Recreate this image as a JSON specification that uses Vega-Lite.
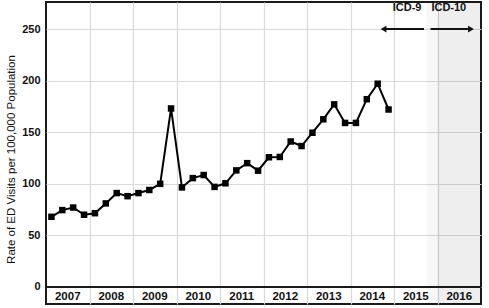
{
  "$schema": "https://vega.github.io/schema/vega-lite/v6.json",
  "width": 435,
  "height": 302,
  "autosize": {"type": "none"},
  "padding": {"left": 46, "top": 2, "right": 8, "bottom": 4},
  "background": "white",
  "config": {
    "view": {"stroke": "#1a1a1a", "strokeWidth": 2},
    "font": "Liberation Sans",
    "axis": {"gridColor": "#d9d9d9", "gridWidth": 1.2}
  },
  "datasets": {
    "rates": [
      {"t": 2007.125, "rate": 68}, {"t": 2007.375, "rate": 74.5}, {"t": 2007.625, "rate": 77}, {"t": 2007.875, "rate": 70},
      {"t": 2008.125, "rate": 71.5}, {"t": 2008.375, "rate": 81}, {"t": 2008.625, "rate": 91}, {"t": 2008.875, "rate": 88},
      {"t": 2009.125, "rate": 91}, {"t": 2009.375, "rate": 94}, {"t": 2009.625, "rate": 100}, {"t": 2009.875, "rate": 173},
      {"t": 2010.125, "rate": 96.5}, {"t": 2010.375, "rate": 105.5}, {"t": 2010.625, "rate": 108.5}, {"t": 2010.875, "rate": 97},
      {"t": 2011.125, "rate": 100.5}, {"t": 2011.375, "rate": 113}, {"t": 2011.625, "rate": 120}, {"t": 2011.875, "rate": 112.7},
      {"t": 2012.125, "rate": 125.7}, {"t": 2012.375, "rate": 126}, {"t": 2012.625, "rate": 141}, {"t": 2012.875, "rate": 136.6},
      {"t": 2013.125, "rate": 149.5}, {"t": 2013.375, "rate": 162.5}, {"t": 2013.625, "rate": 177}, {"t": 2013.875, "rate": 159},
      {"t": 2014.125, "rate": 159}, {"t": 2014.375, "rate": 182}, {"t": 2014.625, "rate": 197}, {"t": 2014.875, "rate": 172}
    ],
    "years": [
      {"year": "2007", "mid": 2007.5}, {"year": "2008", "mid": 2008.5}, {"year": "2009", "mid": 2009.5},
      {"year": "2010", "mid": 2010.5}, {"year": "2011", "mid": 2011.5}, {"year": "2012", "mid": 2012.5},
      {"year": "2013", "mid": 2013.5}, {"year": "2014", "mid": 2014.5}, {"year": "2015", "mid": 2015.5},
      {"year": "2016", "mid": 2016.5}
    ],
    "one": [{}]
  },
  "layer": [
    {
      "data": {"name": "one"},
      "mark": {"type": "rect", "color": "#000", "opacity": 0.03},
      "encoding": {
        "x": {"datum": 2015.75, "type": "quantitative", "scale": {"domain": [2007, 2017], "nice": false, "zero": false},
          "axis": {"values": [2008, 2009, 2010, 2011, 2012, 2013, 2014, 2015, 2016], "grid": true, "labels": false, "ticks": false, "domain": false, "title": null}},
        "x2": {"datum": 2017},
        "y": {"datum": -16.5, "type": "quantitative", "scale": {"domain": [-16.5, 276.2], "nice": false, "zero": false},
          "axis": {"values": [0, 50, 100, 150, 200, 250], "grid": true, "ticks": false, "domain": false, "labelPadding": 6,
            "labelFontSize": 11, "labelFontWeight": "bold", "labelColor": "#111",
            "title": "Rate of ED Visits per 100,000 Population", "titleFontSize": 11.5, "titleFontWeight": "normal", "titleColor": "#111", "titlePadding": 5, "titleY": 157}},
        "y2": {"datum": 276.2}
      }
    },
    {
      "data": {"name": "one"},
      "mark": {"type": "rect", "color": "#000", "opacity": 0.035},
      "encoding": {
        "x": {"datum": 2016, "type": "quantitative"},
        "x2": {"datum": 2017},
        "y": {"datum": -16.5, "type": "quantitative"},
        "y2": {"datum": 276.2}
      }
    },
    {
      "data": {"name": "one"},
      "mark": {"type": "rule", "color": "#1a1a1a", "strokeWidth": 2},
      "encoding": {"y": {"datum": 0, "type": "quantitative"}}
    },
    {
      "data": {"name": "rates"},
      "mark": {"type": "line", "color": "#000", "strokeWidth": 2},
      "encoding": {
        "x": {"field": "t", "type": "quantitative"},
        "y": {"field": "rate", "type": "quantitative"}
      }
    },
    {
      "data": {"name": "rates"},
      "mark": {"type": "point", "shape": "square", "filled": true, "color": "#000", "size": 42, "opacity": 1},
      "encoding": {
        "x": {"field": "t", "type": "quantitative"},
        "y": {"field": "rate", "type": "quantitative"}
      }
    },
    {
      "data": {"name": "years"},
      "mark": {"type": "text", "fontSize": 11.5, "fontWeight": "bold", "color": "#111", "baseline": "middle"},
      "encoding": {
        "x": {"field": "mid", "type": "quantitative"},
        "y": {"datum": -9.5, "type": "quantitative"},
        "text": {"field": "year"}
      }
    },
    {
      "data": {"name": "one"},
      "mark": {"type": "rule", "color": "#111", "strokeWidth": 2},
      "encoding": {"x": {"datum": 2014.75, "type": "quantitative"}, "x2": {"datum": 2015.69}, "y": {"datum": 250, "type": "quantitative"}}
    },
    {
      "data": {"name": "one"},
      "mark": {"type": "point", "shape": "triangle-left", "filled": true, "color": "#111", "size": 45, "opacity": 1},
      "encoding": {"x": {"datum": 2014.76, "type": "quantitative"}, "y": {"datum": 250, "type": "quantitative"}}
    },
    {
      "data": {"name": "one"},
      "mark": {"type": "rule", "color": "#111", "strokeWidth": 2},
      "encoding": {"x": {"datum": 2015.84, "type": "quantitative"}, "x2": {"datum": 2016.78}, "y": {"datum": 250, "type": "quantitative"}}
    },
    {
      "data": {"name": "one"},
      "mark": {"type": "point", "shape": "triangle-right", "filled": true, "color": "#111", "size": 45, "opacity": 1},
      "encoding": {"x": {"datum": 2016.77, "type": "quantitative"}, "y": {"datum": 250, "type": "quantitative"}}
    },
    {
      "data": {"name": "one"},
      "mark": {"type": "text", "fontSize": 11, "fontWeight": "bold", "color": "#111", "baseline": "middle"},
      "encoding": {"x": {"datum": 2015.3, "type": "quantitative"}, "y": {"datum": 270, "type": "quantitative"}, "text": {"value": "ICD-9"}}
    },
    {
      "data": {"name": "one"},
      "mark": {"type": "text", "fontSize": 11, "fontWeight": "bold", "color": "#111", "baseline": "middle"},
      "encoding": {"x": {"datum": 2016.26, "type": "quantitative"}, "y": {"datum": 270, "type": "quantitative"}, "text": {"value": "ICD-10"}}
    }
  ]
}
